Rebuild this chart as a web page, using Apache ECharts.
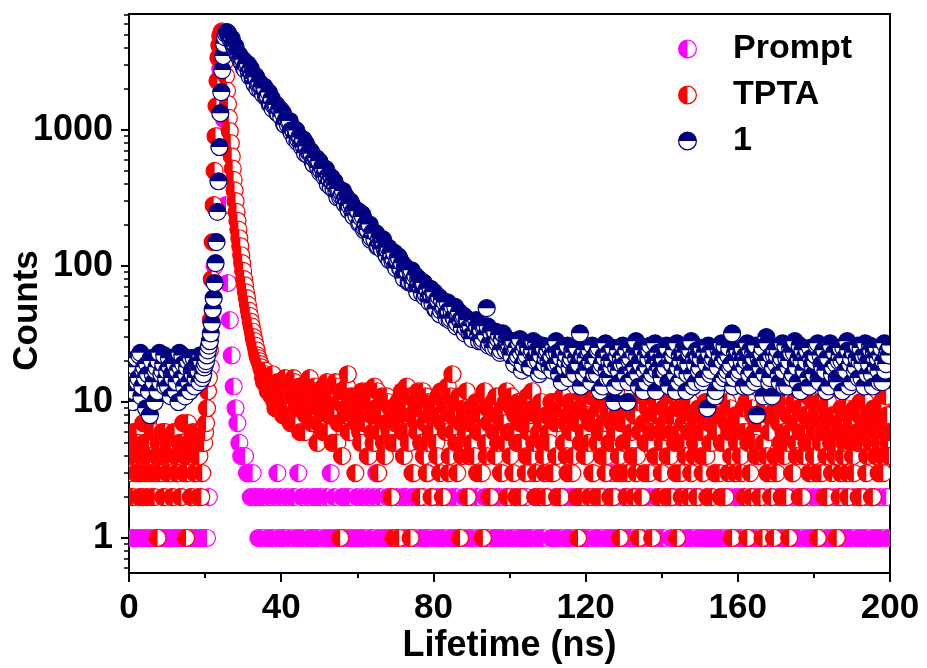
<!DOCTYPE html>
<html>
<head>
<meta charset="utf-8">
<script src="https://cdn.jsdelivr.net/npm/echarts@6/dist/echarts.min.js"></script>
<style>html,body{margin:0;padding:0;background:#fff}#chart{width:927px;height:668px}</style>
</head>
<body>
<div id="chart"></div>
<script>
// time channels (ns), main grid
const lifetimeNs = [
0,0.5,1,1.5,2,2.5,3,3.5,4,4.5,5,5.5,6,6.5,7,7.5,8,8.5,9,9.5,
10,10.5,11,11.5,12,12.5,13,13.5,14,14.5,15,15.5,16,16.5,17,17.5,18,18.5,19,19.5,
20,20.5,21,21.5,22,22.5,23,23.5,24,24.5,25,25.5,26,26.5,27,27.5,28,28.5,29,29.5,
30,30.5,31,31.5,32,32.5,33,33.5,34,34.5,35,35.5,36,36.5,37,37.5,38,38.5,39,39.5,
40,40.5,41,41.5,42,42.5,43,43.5,44,44.5,45,45.5,46,46.5,47,47.5,48,48.5,49,49.5,
50,50.5,51,51.5,52,52.5,53,53.5,54,54.5,55,55.5,56,56.5,57,57.5,58,58.5,59,59.5,
60,60.5,61,61.5,62,62.5,63,63.5,64,64.5,65,65.5,66,66.5,67,67.5,68,68.5,69,69.5,
70,70.5,71,71.5,72,72.5,73,73.5,74,74.5,75,75.5,76,76.5,77,77.5,78,78.5,79,79.5,
80,80.5,81,81.5,82,82.5,83,83.5,84,84.5,85,85.5,86,86.5,87,87.5,88,88.5,89,89.5,
90,90.5,91,91.5,92,92.5,93,93.5,94,94.5,95,95.5,96,96.5,97,97.5,98,98.5,99,99.5,
100,100.5,101,101.5,102,102.5,103,103.5,104,104.5,105,105.5,106,106.5,107,107.5,108,108.5,109,109.5,
110,110.5,111,111.5,112,112.5,113,113.5,114,114.5,115,115.5,116,116.5,117,117.5,118,118.5,119,119.5,
120,120.5,121,121.5,122,122.5,123,123.5,124,124.5,125,125.5,126,126.5,127,127.5,128,128.5,129,129.5,
130,130.5,131,131.5,132,132.5,133,133.5,134,134.5,135,135.5,136,136.5,137,137.5,138,138.5,139,139.5,
140,140.5,141,141.5,142,142.5,143,143.5,144,144.5,145,145.5,146,146.5,147,147.5,148,148.5,149,149.5,
150,150.5,151,151.5,152,152.5,153,153.5,154,154.5,155,155.5,156,156.5,157,157.5,158,158.5,159,159.5,
160,160.5,161,161.5,162,162.5,163,163.5,164,164.5,165,165.5,166,166.5,167,167.5,168,168.5,169,169.5,
170,170.5,171,171.5,172,172.5,173,173.5,174,174.5,175,175.5,176,176.5,177,177.5,178,178.5,179,179.5,
180,180.5,181,181.5,182,182.5,183,183.5,184,184.5,185,185.5,186,186.5,187,187.5,188,188.5,189,189.5,
190,190.5,191,191.5,192,192.5,193,193.5,194,194.5,195,195.5,196,196.5,197,197.5,198,198.5,199,199.5,
200
];

// interleaved channels (ns) read for the TPTA and "1" traces
const lifetimeNsB = [
0.25,0.75,1.25,1.75,2.25,2.75,3.25,3.75,4.25,4.75,5.25,5.75,6.25,6.75,7.25,7.75,8.25,8.75,9.25,9.75,
10.25,10.75,11.25,11.75,12.25,12.75,13.25,13.75,14.25,14.75,15.25,15.75,16.25,16.75,17.25,17.75,18.25,18.75,19.25,19.75,
20.25,20.75,21.25,21.75,22.25,22.75,23.25,23.75,24.25,24.75,25.25,25.75,26.25,26.75,27.25,27.75,28.25,28.75,29.25,29.75,
30.25,30.75,31.25,31.75,32.25,32.75,33.25,33.75,34.25,34.75,35.25,35.75,36.25,36.75,37.25,37.75,38.25,38.75,39.25,39.75,
40.25,40.75,41.25,41.75,42.25,42.75,43.25,43.75,44.25,44.75,45.25,45.75,46.25,46.75,47.25,47.75,48.25,48.75,49.25,49.75,
50.25,50.75,51.25,51.75,52.25,52.75,53.25,53.75,54.25,54.75,55.25,55.75,56.25,56.75,57.25,57.75,58.25,58.75,59.25,59.75,
60.25,60.75,61.25,61.75,62.25,62.75,63.25,63.75,64.25,64.75,65.25,65.75,66.25,66.75,67.25,67.75,68.25,68.75,69.25,69.75,
70.25,70.75,71.25,71.75,72.25,72.75,73.25,73.75,74.25,74.75,75.25,75.75,76.25,76.75,77.25,77.75,78.25,78.75,79.25,79.75,
80.25,80.75,81.25,81.75,82.25,82.75,83.25,83.75,84.25,84.75,85.25,85.75,86.25,86.75,87.25,87.75,88.25,88.75,89.25,89.75,
90.25,90.75,91.25,91.75,92.25,92.75,93.25,93.75,94.25,94.75,95.25,95.75,96.25,96.75,97.25,97.75,98.25,98.75,99.25,99.75,
100.25,100.75,101.25,101.75,102.25,102.75,103.25,103.75,104.25,104.75,105.25,105.75,106.25,106.75,107.25,107.75,108.25,108.75,109.25,109.75,
110.25,110.75,111.25,111.75,112.25,112.75,113.25,113.75,114.25,114.75,115.25,115.75,116.25,116.75,117.25,117.75,118.25,118.75,119.25,119.75,
120.25,120.75,121.25,121.75,122.25,122.75,123.25,123.75,124.25,124.75,125.25,125.75,126.25,126.75,127.25,127.75,128.25,128.75,129.25,129.75,
130.25,130.75,131.25,131.75,132.25,132.75,133.25,133.75,134.25,134.75,135.25,135.75,136.25,136.75,137.25,137.75,138.25,138.75,139.25,139.75,
140.25,140.75,141.25,141.75,142.25,142.75,143.25,143.75,144.25,144.75,145.25,145.75,146.25,146.75,147.25,147.75,148.25,148.75,149.25,149.75,
150.25,150.75,151.25,151.75,152.25,152.75,153.25,153.75,154.25,154.75,155.25,155.75,156.25,156.75,157.25,157.75,158.25,158.75,159.25,159.75,
160.25,160.75,161.25,161.75,162.25,162.75,163.25,163.75,164.25,164.75,165.25,165.75,166.25,166.75,167.25,167.75,168.25,168.75,169.25,169.75,
170.25,170.75,171.25,171.75,172.25,172.75,173.25,173.75,174.25,174.75,175.25,175.75,176.25,176.75,177.25,177.75,178.25,178.75,179.25,179.75,
180.25,180.75,181.25,181.75,182.25,182.75,183.25,183.75,184.25,184.75,185.25,185.75,186.25,186.75,187.25,187.75,188.25,188.75,189.25,189.75,
190.25,190.75,191.25,191.75,192.25,192.75,193.25,193.75,194.25,194.75,195.25,195.75,196.25,196.75,197.25,197.75,198.25,198.75,199.25,199.75
];

// Prompt (IRF) counts; 0 = empty channel (not drawn on log axis)
const promptCounts = [
1,1,0,1,1,1,0,1,1,1,1,0,1,1,1,1,0,1,1,1,
1,0,1,1,1,1,1,0,1,1,1,1,0,1,1,1,1,0,1,1,
1,1,2,18,47,100,260,900,2800,5300,1200,280,75,40,22,13,9,7,5,4,
4,4,3,3,2,3,2,2,1,2,1,2,0,1,2,1,1,2,3,1,
2,1,1,2,0,1,2,2,1,3,1,2,1,0,2,1,1,2,1,2,
1,2,0,1,2,1,3,1,2,1,1,0,2,1,2,1,2,1,0,1,
2,1,1,2,1,0,2,1,1,2,3,1,2,1,0,1,2,1,2,1,
1,2,1,0,2,1,2,1,1,2,1,2,0,1,1,2,1,3,1,2,
0,1,2,1,2,1,1,2,0,1,2,1,2,1,1,0,2,1,2,1,
2,1,0,2,1,3,1,2,1,1,2,0,1,2,1,2,1,1,2,0,
1,2,1,2,0,1,1,2,1,2,1,3,1,0,2,1,2,1,1,2,
2,0,1,1,2,1,2,1,0,2,1,1,2,1,2,0,1,2,1,1,
1,2,1,0,2,1,1,2,1,2,0,1,2,1,3,1,2,1,0,1,
2,1,2,1,1,0,2,1,2,1,1,2,0,1,2,1,1,2,1,0,
1,1,2,0,2,1,2,1,1,2,1,0,2,1,1,2,1,2,0,1,
2,1,0,1,2,1,2,1,3,1,1,2,1,0,2,1,2,1,1,2,
1,2,1,2,0,1,1,2,1,2,1,0,2,1,2,1,1,0,2,1,
0,2,1,1,2,1,2,0,1,2,1,1,2,1,0,2,1,2,1,1,
2,1,1,2,1,0,2,1,2,1,1,2,0,1,2,1,2,1,1,0,
1,2,0,1,2,1,1,2,1,0,2,1,2,1,1,2,1,0,2,1,
1
];

// TPTA counts, main grid
const tptaCounts = [
3,5,2,4,6,3,4,2,5,3,7,4,2,6,3,1,5,4,2,6,
3,4,5,2,6,3,4,2,5,3,1,7,4,2,5,3,6,4,2,5,
6,9,15,40,150,500,1500,3400,4900,5300,4000,2500,1550,980,640,430,300,215,160,120,
92,72,58,47,39,33,28,24,21,19,17,14,16,12,15,11,13,9,14,10,
12,8,15,10,13,7,11,14,9,12,6,10,13,8,11,15,7,10,12,5,
9,12,6,10,14,8,11,5,9,13,7,1,4,12,8,16,6,9,11,3,
8,11,5,9,7,12,4,10,6,13,8,3,9,11,5,7,10,6,2,1,
7,9,1,11,6,8,13,5,1,3,8,7,12,2,9,4,11,5,8,2,
6,10,4,8,12,2,7,9,3,11,16,8,5,10,1,4,9,6,2,7,
5,9,7,3,10,6,1,12,4,7,2,9,6,11,5,8,3,7,10,2,
6,11,3,8,5,9,2,7,10,4,6,8,12,5,3,9,2,7,4,2,
8,5,10,3,7,2,9,2,11,5,4,8,6,3,10,7,1,9,2,6,
4,8,2,11,3,7,5,9,2,6,10,4,8,2,7,5,12,3,1,9,
5,7,3,10,6,2,8,4,1,6,11,3,7,5,8,1,6,10,4,2,
3,9,6,4,8,2,11,5,1,6,3,9,5,8,2,10,6,4,7,5,
8,4,6,10,2,7,5,9,3,6,8,2,11,5,7,3,9,1,6,8,
5,7,3,9,6,1,10,2,8,5,7,4,2,1,9,4,8,3,11,1,
9,4,7,2,6,10,5,1,8,3,7,4,9,6,2,8,5,11,3,7,
4,8,1,10,3,6,9,2,7,5,8,4,1,6,3,7,5,9,2,6,
7,3,9,5,8,2,6,10,4,7,5,2,8,6,3,9,4,7,11,5,
6
];

// TPTA counts, interleaved channels
const tptaCountsB = [
4,2,6,3,5,2,3,7,4,2,5,3,6,2,4,5,3,6,2,4,
5,3,2,6,4,3,5,2,7,4,3,5,2,6,3,4,2,5,3,5,
7,12,24,80,280,900,2300,4200,5200,4800,3200,1950,1230,800,520,360,250,185,140,105,
80,64,52,43,36,30,26,22,20,18,15,17,13,14,12,16,10,12,11,13,
10,14,9,12,8,11,15,7,10,13,9,11,6,14,9,12,8,13,10,7,
11,7,13,9,6,12,10,8,14,5,10,12,7,9,13,6,11,8,10,7,
9,6,12,7,10,4,11,8,5,9,12,6,8,10,4,11,7,9,5,8,
5,10,7,12,4,9,6,11,8,3,10,6,9,5,12,7,3,10,6,9,
8,5,11,3,7,10,6,13,4,8,6,9,3,11,7,5,8,12,4,9,
7,4,10,6,8,3,11,5,9,2,7,10,4,8,6,3,9,5,12,6,
4,9,6,2,10,7,5,8,3,11,7,4,9,2,8,6,10,5,3,8,
6,3,8,10,4,7,2,9,5,7,3,10,6,4,8,2,7,5,11,4,
9,5,7,3,8,2,10,6,4,7,3,9,5,11,2,6,8,4,7,3,
7,2,9,5,4,8,3,10,6,2,7,5,9,3,6,11,4,8,2,6,
5,7,2,10,4,6,8,3,9,5,2,7,4,10,6,3,8,5,2,9,
6,3,8,4,10,5,2,7,6,9,3,5,8,2,10,6,4,7,3,5,
8,4,6,2,10,5,3,9,6,4,8,2,7,5,10,3,6,2,8,4,
3,7,5,9,4,2,8,6,3,10,5,7,2,9,4,6,8,3,5,10,
6,3,9,5,7,2,4,10,6,3,8,5,7,2,9,4,6,3,8,5,
4,9,6,2,10,5,7,3,8,6,2,9,4,7,5,10,3,6,8,4
];

// complex "1" counts, main grid
const complex1Counts = [
19,14,10,17,21,15,23,13,18,9,16,8,20,14,17,12,23,16,19,13,
17,21,11,15,19,14,10,18,22,13,16,20,12,17,21,15,18,14,20,16,
19,22,26,32,48,75,150,420,1330,2760,4300,5100,5150,4750,4700,4150,4100,3600,3560,3180,
3280,2780,2930,2660,2830,2380,2170,2430,2170,1960,2070,2090,1740,1770,1550,1710,1520,1510,1330,1420,
1250,1320,1095,1165,1145,990,1000,865,990,850,880,745,745,795,655,685,670,560,625,555,
589,504,515,446,450,466,382,408,419,352,366,317,341,309,324,274,276,284,232,254,
254,205,227,229,189,186,201,156,177,157,173,140,147,132,147,124,131,110,122,112,
100,112,114,95,85,99,91,76,91,75,81,68,81,70,63,75,62,67,54,61,
63,48,57,59,47,49,54,41,47,41,50,41,36,44,40,35,43,35,40,32,
31,39,33,36,28,34,29,36,49,26,33,27,33,25,29,23,29,31,24,27,
26,22,28,24,21,27,23,19,26,22,25,18,24,21,27,20,23,17,25,21,
24,18,22,26,19,23,16,21,25,18,22,15,20,24,17,21,19,32,22,16,
21,17,24,14,19,22,16,25,18,13,21,17,23,15,20,10,18,24,14,19,
22,16,10,20,25,15,18,22,13,19,24,17,14,21,26,16,19,12,23,18,
15,21,18,25,13,19,22,16,27,14,20,17,23,12,19,24,16,21,14,22,
18,25,15,20,9,23,17,21,11,19,24,14,20,26,16,22,18,32,15,21,
24,17,20,13,22,27,16,19,23,14,8,21,18,25,16,30,20,15,11,22,
19,24,14,21,17,26,13,20,23,16,28,18,21,12,24,17,20,15,25,19,
16,22,27,14,19,24,17,21,13,26,18,23,15,20,25,12,21,17,24,19,
14,23,18,26,20,15,22,27,16,19,24,13,21,25,17,22,14,27,19,24,
26
];

// complex "1" counts, interleaved channels
const complex1CountsB = [
16,20,12,18,14,22,11,17,15,19,12,21,16,10,18,20,14,17,22,15,
13,18,16,20,12,17,23,15,19,11,18,14,21,16,13,19,17,22,15,18,
20,24,28,38,58,105,250,750,1900,3500,4800,5250,4950,4600,4350,4050,3750,3500,3300,3100,
2850,3050,3050,2470,2600,2370,2500,2020,2240,2060,1820,2020,1750,1890,1560,1430,1560,1530,1320,1410,
1360,1105,1195,1090,1165,955,980,1005,820,890,790,855,675,755,685,700,585,610,620,525,
488,535,470,516,400,433,447,367,390,320,369,327,356,284,302,257,297,250,263,235,
253,208,241,184,205,184,202,161,172,175,139,160,137,157,133,118,136,126,108,125,
96,118,96,105,81,96,90,77,93,74,85,64,76,69,76,59,68,59,68,53,
64,48,56,44,56,50,44,54,40,47,42,50,38,46,39,42,32,41,35,36,
29,39,40,31,35,28,35,31,36,27,32,25,33,27,31,24,32,25,29,25,
23,27,19,25,22,29,17,24,21,26,18,23,28,20,24,16,22,26,19,23,
20,25,17,23,28,19,22,14,24,20,26,18,21,23,16,25,19,13,22,24,
18,23,20,26,16,21,24,12,19,22,27,15,20,18,25,13,22,17,21,26,
19,24,14,21,17,23,28,16,20,25,12,22,18,24,15,21,27,17,20,16,
23,17,26,14,21,19,24,12,18,22,15,25,20,16,23,28,13,19,24,17,
21,14,23,19,26,16,20,24,12,18,22,27,15,21,17,25,19,13,23,20,
16,22,25,18,20,13,24,17,21,26,15,19,23,11,20,27,14,22,18,24,
22,16,20,27,13,21,18,25,15,23,19,14,26,20,17,22,24,13,21,18,
20,26,15,22,18,24,12,21,27,16,23,19,14,22,20,25,17,28,13,21,
24,17,21,15,25,19,13,22,20,26,16,23,18,21,14,25,20,17,23,22
];

const seriesNames = ['Prompt', 'TPTA', '1'];
const seriesColors = ['#ff00ff', '#ff0000', '#000080'];
const xTickLabels = [0, 40, 80, 120, 160, 200];
const yTickLabels = [1, 10, 100, 1000];
const yMinorTicks = [0.6,0.7,0.8,0.9,2,3,4,5,6,7,8,9,20,30,40,50,60,70,80,90,200,300,400,500,600,700,800,900,2000,3000,4000,5000,6000,7000];

const FONT = '"Liberation Sans", Arial, Helvetica, sans-serif';
const R = 8.5;
const Y_MIN = 0.553, Y_MAX = 7130;

// join channel lists (time, counts) and drop empty channels
function pairs(times, counts, timesB, countsB) {
  let d = times.map((t, i) => [t, counts[i]]);
  if (timesB) d = d.concat(timesB.map((t, i) => [t, countsB[i]]));
  return d.filter(p => p[1] > 0).sort((a, b) => a[0] - b[0]);
}

function halfRenderer(color, half) {
  const a0 = half === 'left' ? Math.PI / 2 : Math.PI;
  const a1 = a0 + Math.PI;
  return function (params, api) {
    const v = api.value(1);
    if (!(v > 0)) return null;
    const p = api.coord([api.value(0), v]);
    return {
      type: 'group',
      children: [
        { type: 'circle', shape: { cx: p[0], cy: p[1], r: R }, style: { fill: '#fff', stroke: color, lineWidth: 1.2 } },
        { type: 'sector', shape: { cx: p[0], cy: p[1], r0: 0, r: R, startAngle: a0, endAngle: a1, clockwise: true }, style: { fill: color } }
      ]
    };
  };
}

// legend icons: ring + filled half (nonzero winding)
const ringPath = 'M10,0 A10,10 0 1,1 10,20 A10,10 0 1,1 10,0 Z M10,1.3 A8.7,8.7 0 1,0 10,18.7 A8.7,8.7 0 1,0 10,1.3 Z ';
const iconLeft = 'path://' + ringPath + 'M10,20 A10,10 0 0,1 10,0 Z';
const iconTop = 'path://' + ringPath + 'M0,10 A10,10 0 0,1 20,10 Z';

const chart = echarts.init(document.getElementById('chart'), null, { renderer: 'canvas' });

const axisLineStyle = { color: '#000', width: 2 };

chart.setOption({
  backgroundColor: '#fff',
  animation: false,
  grid: { left: 129, right: 37, top: 14, bottom: 95, outerBoundsMode: 'none', containLabel: false,
    show: true, borderColor: '#000', borderWidth: 2, backgroundColor: 'transparent' },
  legend: {
    orient: 'vertical',
    left: 678,
    top: 29,
    padding: 0,
    itemWidth: 19,
    itemHeight: 19,
    itemGap: 6,
    textStyle: { fontFamily: FONT, fontWeight: 'bold', fontSize: 34, color: '#000', lineHeight: 40, padding: [0, 0, 0, 31] },
    data: [
      { name: seriesNames[0], icon: iconLeft },
      { name: seriesNames[1], icon: iconLeft },
      { name: seriesNames[2], icon: iconTop }
    ]
  },
  xAxis: {
    type: 'value',
    min: 0, max: 200, interval: 40,
    name: 'Lifetime (ns)',
    nameLocation: 'middle',
    nameGap: 55,
    nameMoveOverlap: false,
    nameTextStyle: { fontFamily: FONT, fontWeight: 'bold', fontSize: 36, color: '#000' },
    axisLine: { show: true, lineStyle: axisLineStyle },
    axisTick: { show: true, inside: false, length: 9, lineStyle: { color: '#000', width: 2 } },
    minorTick: { show: true, splitNumber: 2, length: 5, lineStyle: { color: '#000', width: 2 } },
    splitLine: { show: false },
    minorSplitLine: { show: false },
    axisLabel: { fontFamily: FONT, fontWeight: 'bold', fontSize: 35, color: '#000', margin: 18, customValues: xTickLabels }
  },
  yAxis: [
    {
      type: 'log', logBase: 10,
      min: Y_MIN, max: Y_MAX,
      name: 'Counts',
      nameLocation: 'middle',
      nameGap: 84,
      nameMoveOverlap: false,
      nameTextStyle: { fontFamily: FONT, fontWeight: 'bold', fontSize: 35, color: '#000', padding: [0, 34, 0, 0] },
      axisLine: { show: true, lineStyle: axisLineStyle },
      axisTick: { show: true, inside: false, length: 8, lineStyle: { color: '#000', width: 2 }, customValues: yTickLabels },
      splitLine: { show: false },
      axisLabel: { fontFamily: FONT, fontWeight: 'bold', fontSize: 36, color: '#000', margin: 16, customValues: yTickLabels,
        formatter: v => String(Math.round(v)) }
    },
    {
      type: 'log', logBase: 10,
      min: Y_MIN, max: Y_MAX,
      position: 'left',
      axisLine: { show: false },
      axisTick: { show: true, inside: false, length: 5, lineStyle: { color: '#000', width: 1.5 }, customValues: yMinorTicks },
      axisLabel: { show: false },
      splitLine: { show: false }
    }
  ],
  series: [
    { name: seriesNames[0], type: 'custom', clip: true, itemStyle: { color: seriesColors[0] },
      renderItem: halfRenderer(seriesColors[0], 'left'), encode: { x: 0, y: 1 },
      data: pairs(lifetimeNs, promptCounts) },
    { name: seriesNames[1], type: 'custom', clip: true, itemStyle: { color: seriesColors[1] },
      renderItem: halfRenderer(seriesColors[1], 'left'), encode: { x: 0, y: 1 },
      data: pairs(lifetimeNs, tptaCounts, lifetimeNsB, tptaCountsB) },
    { name: seriesNames[2], type: 'custom', clip: true, itemStyle: { color: seriesColors[2] },
      renderItem: halfRenderer(seriesColors[2], 'top'), encode: { x: 0, y: 1 },
      data: pairs(lifetimeNs, complex1Counts, lifetimeNsB, complex1CountsB) }
  ]
});
</script>
</body>
</html>
